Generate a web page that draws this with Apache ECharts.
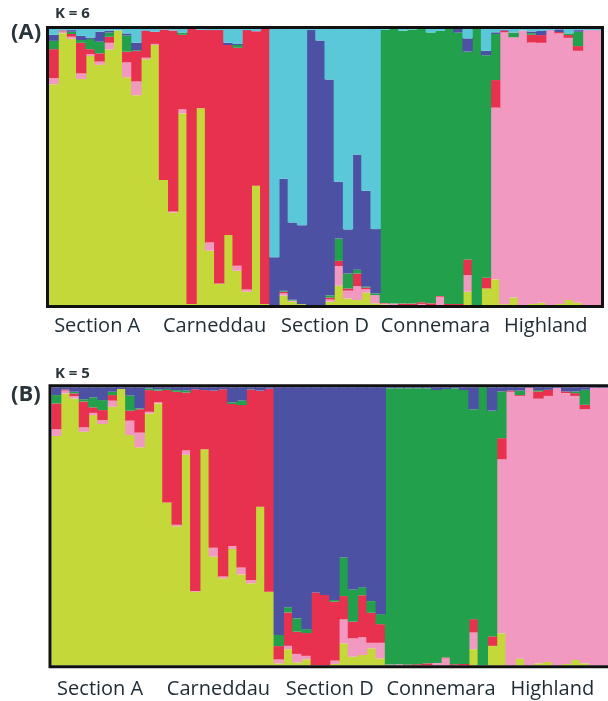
<!DOCTYPE html>
<html>
<head>
<meta charset="utf-8">
<script src="https://cdn.jsdelivr.net/npm/echarts@6/dist/echarts.min.js"></script>
<style>
html,body{margin:0;padding:0;background:#fff;}
#c{width:608px;height:701px;}
</style>
</head>
<body>
<div id="c"></div>
<script>
// Breed groups (12 individuals each)
var breeds = ['Section A', 'Carneddau', 'Section D', 'Connemara', 'Highland'];
var individuals = [];
for (var i = 1; i <= 60; i++) individuals.push('ind' + i);

// ---- K = 6 (panel A) membership coefficients, bottom to top ----
var k6Yellow = [0.80,0.985,0.964,0.819,0.902,0.87,0.926,0.995,0.825,0.76,0.89,0.942,
  0.453,0.335,0.694,0.004,0.713,0.197,0.076,0.254,0.124,0.048,0.432,0.004,
  0,0.034,0.012,0.003,0,0,0.012,0.07,0.024,0.018,0.045,0.006,
  0.002,0,0,0,0,0,0,0,0,0.048,0,0.06,
  0.093,0.003,0.027,0,0.004,0.008,0,0.004,0.018,0.008,0,0];
var k6Pink = [0.022,0.006,0.008,0.02,0.007,0.012,0.024,0,0.054,0.05,0.006,0.004,
  0,0.004,0.015,0,0,0.029,0.002,0,0.018,0.008,0,0,
  0,0.008,0.004,0,0,0,0.008,0.071,0.028,0.05,0.012,0.03,
  0.003,0.005,0,0,0.004,0,0.03,0,0,0.06,0,0,
  0.622,0.985,0.943,0.995,0.947,0.942,0.996,0.98,0.95,0.913,0.996,0.996];
var k6Red = [0.105,0.004,0.01,0.111,0.018,0.03,0.022,0,0.039,0.11,0.097,0.044,
  0.545,0.656,0.27,0.996,0.284,0.77,0.918,0.688,0.79,0.94,0.56,0.996,
  0,0.006,0,0,0,0,0.007,0.019,0.008,0.046,0.006,0,
  0.002,0,0.005,0.005,0.006,0.006,0.003,0.004,0.004,0.057,0,0.039,
  0.1,0.006,0,0,0.028,0.028,0,0.005,0.01,0.017,0,0];
var k6Green = [0.03,0,0.008,0.01,0.037,0.042,0.015,0,0.058,0.003,0,0,
  0,0,0.008,0,0,0,0,0,0.01,0,0,0,
  0,0.004,0.003,0,0,0,0.008,0.081,0.054,0.014,0.003,0.006,
  0.99,0.995,0.989,0.993,0.99,0.981,0.96,0.996,0.983,0.753,1.0,0.806,
  0.167,0,0.017,0,0.006,0,0,0,0.006,0.052,0,0];
var k6Blue = [0.022,0,0.006,0.015,0.005,0.036,0.007,0,0.008,0.027,0.002,0,
  0,0,0,0,0,0,0,0.008,0.004,0,0,0,
  0.173,0.405,0.28,0.286,0.996,0.958,0.782,0.206,0.16,0.417,0.348,0.233,
  0,0,0,0,0,0,0,0,0.013,0.048,0,0.016,
  0.006,0.003,0,0,0.006,0.015,0,0.01,0,0.006,0,0];
var k6Cyan = [0.021,0.005,0.004,0.025,0.031,0.01,0.006,0.005,0.016,0.05,0.005,0.01,
  0.002,0.005,0.013,0,0.003,0.004,0.004,0.05,0.054,0.004,0.008,0,
  0.827,0.543,0.701,0.711,0.004,0.042,0.183,0.553,0.726,0.455,0.586,0.725,
  0.003,0,0.006,0.002,0,0.013,0.007,0,0,0.034,0,0.079,
  0.012,0.003,0.013,0.005,0.009,0.007,0.004,0.001,0.016,0.004,0.004,0.004];

// ---- K = 5 (panel B) ----
var k5Yellow = [0.825,0.978,0.96,0.84,0.9,0.868,0.93,0.994,0.828,0.784,0.906,0.942,
  0.586,0.5,0.757,0.264,0.777,0.391,0.313,0.418,0.327,0.295,0.57,0.265,
  0.007,0.058,0.01,0.022,0,0,0.005,0.079,0.031,0.037,0.061,0.025,
  0,0,0,0,0,0,0,0,0,0.058,0,0.07,
  0.115,0,0.024,0,0.007,0.012,0,0.005,0.019,0.007,0,0];
var k5Pink = [0.024,0.01,0.008,0.016,0.008,0.014,0.022,0,0.052,0.053,0.006,0.004,
  0,0.006,0.016,0.003,0,0.032,0.006,0.011,0.025,0.012,0,0,
  0.014,0.012,0.031,0.012,0,0,0.012,0.086,0.066,0.064,0.02,0.056,
  0.003,0.004,0,0,0,0.008,0.025,0,0,0.06,0,0,
  0.626,0.984,0.945,0.998,0.952,0.957,0.998,0.974,0.95,0.914,0.998,0.998];
var k5Red = [0.093,0.004,0.01,0.093,0.02,0.036,0.02,0,0.036,0.084,0.078,0.042,
  0.404,0.478,0.208,0.726,0.213,0.565,0.674,0.511,0.584,0.684,0.418,0.73,
  0.048,0.12,0.08,0.082,0.262,0.253,0.212,0.084,0.06,0.151,0.108,0.067,
  0,0,0.003,0.004,0.007,0,0.003,0.004,0.005,0.048,0,0.034,
  0.076,0.004,0.003,0,0.026,0.022,0,0.006,0.01,0.016,0,0];
var k5Green = [0.03,0,0.006,0.008,0.036,0.036,0.012,0,0.054,0.003,0.006,0.005,
  0.004,0.006,0.007,0,0,0,0,0.006,0.016,0.001,0,0,
  0.04,0.019,0.048,0.014,0,0,0.006,0.139,0.116,0.029,0.042,0.036,
  0.994,0.993,0.994,0.993,0.99,0.982,0.966,0.993,0.985,0.755,1.0,0.812,
  0.168,0,0.016,0,0.005,0,0,0,0.006,0.054,0,0];
var k5Blue = [0.028,0.008,0.016,0.043,0.036,0.046,0.016,0.006,0.03,0.076,0.004,0.007,
  0.006,0.01,0.012,0.007,0.01,0.012,0.007,0.054,0.048,0.008,0.012,0.005,
  0.891,0.791,0.831,0.87,0.738,0.747,0.765,0.612,0.727,0.719,0.769,0.816,
  0.003,0.003,0.003,0.003,0.003,0.01,0.006,0.003,0.01,0.079,0,0.084,
  0.015,0.012,0.012,0.002,0.01,0.009,0.002,0.015,0.015,0.009,0.002,0.002];

var COLORS = {
  yellow: '#c4d83a', pink: '#f199c0', red: '#e8304f',
  green: '#22a04b', blue: '#4c51a3', cyan: '#5ac8d8'
};

function mk(name, data, color, idx) {
  return {
    name: name, type: 'bar', stack: 'p' + idx, data: data,
    xAxisIndex: idx, yAxisIndex: idx,
    barWidth: '112%',
    itemStyle: { color: color },
    silent: true, animation: false
  };
}

var labelFont = {
  fontFamily: 'Open Sans', fontSize: 20, color: '#1e2b33',
  verticalAlign: 'middle', lineHeight: 20
};

function groupAxis(gi, margin) {
  return {
    type: 'category', gridIndex: gi, data: breeds, position: 'bottom',
    axisLine: { show: false }, axisTick: { show: false }, splitLine: { show: false },
    axisLabel: Object.assign({
      margin: margin, interval: 0,
      formatter: function (v, i) { return i === 0 ? '{s|' + v + '}' : v; },
      rich: { s: { fontFamily: 'Open Sans', fontSize: 20, color: '#1e2b33', padding: [0, 14, 0, 0] } }
    }, labelFont)
  };
}

var chart = echarts.init(document.getElementById('c'), null, { renderer: 'canvas' });
var option = {
  animation: false,
  grid: [
    { left: 49, top: 29, width: 552, height: 276, containLabel: false },
    { left: 51.5, top: 387.3, width: 556.5, height: 278, containLabel: false }
  ],
  xAxis: [
    { type: 'category', gridIndex: 0, data: individuals, show: false },
    { type: 'category', gridIndex: 1, data: individuals, show: false },
    groupAxis(0, 21),
    groupAxis(1, 24)
  ],
  yAxis: [
    { type: 'value', gridIndex: 0, min: 0, max: 1, show: false },
    { type: 'value', gridIndex: 1, min: 0, max: 1, show: false }
  ],
  series: [
    mk('yellow', k6Yellow, COLORS.yellow, 0),
    mk('pink', k6Pink, COLORS.pink, 0),
    mk('red', k6Red, COLORS.red, 0),
    mk('green', k6Green, COLORS.green, 0),
    mk('blue', k6Blue, COLORS.blue, 0),
    mk('cyan', k6Cyan, COLORS.cyan, 0),
    mk('yellow', k5Yellow, COLORS.yellow, 1),
    mk('pink', k5Pink, COLORS.pink, 1),
    mk('red', k5Red, COLORS.red, 1),
    mk('green', k5Green, COLORS.green, 1),
    mk('blue', k5Blue, COLORS.blue, 1)
  ],
  graphic: [
    { type: 'rect', z: 100, shape: { x: 47.5, y: 27.5, width: 555, height: 279 },
      style: { fill: 'none', stroke: '#111', lineWidth: 3 } },
    { type: 'rect', z: 100, shape: { x: 50, y: 385.8, width: 562, height: 281 },
      style: { fill: 'none', stroke: '#111', lineWidth: 3 } },
    { type: 'text', z: 100, left: 55, top: 6,
      style: { text: 'K = 6', fontFamily: 'Open Sans', fontWeight: 'bold', fontSize: 15, fill: '#2a343b' } },
    { type: 'text', z: 100, left: 11, top: 22,
      style: { text: '(A)', fontFamily: 'Open Sans', fontWeight: 'bold', fontSize: 22, fill: '#2a343b' } },
    { type: 'text', z: 100, left: 55, top: 366,
      style: { text: 'K = 5', fontFamily: 'Open Sans', fontWeight: 'bold', fontSize: 15, fill: '#2a343b' } },
    { type: 'text', z: 100, left: 11, top: 384,
      style: { text: '(B)', fontFamily: 'Open Sans', fontWeight: 'bold', fontSize: 22, fill: '#2a343b' } }
  ]
};
chart.setOption(option);
</script>
</body>
</html>
